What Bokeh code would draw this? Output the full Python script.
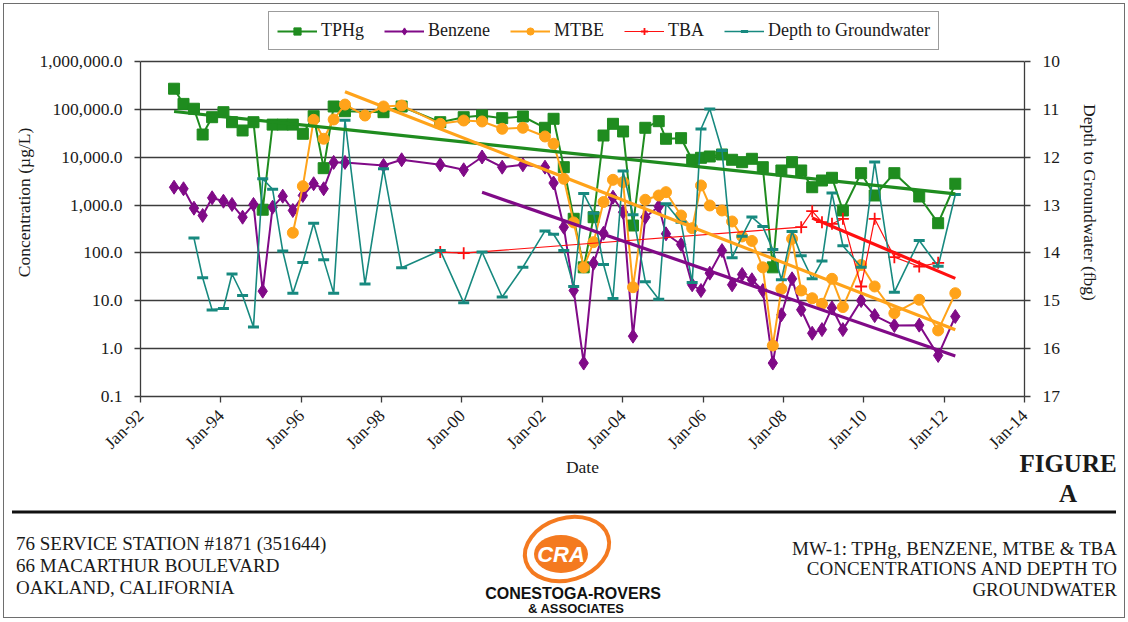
import math
import numpy as np
import pandas as pd
from bokeh.plotting import figure
from bokeh.models import (Range1d, LinearAxis, LinearScale, FixedTicker, NumeralTickFormatter,
                          DatetimeTickFormatter, Legend, LegendItem, Div)
from bokeh.layouts import column
from bokeh.embed import file_html
from bokeh.resources import INLINE

# ---------------- data ----------------
tphg_dates = ["1992-11-01", "1993-01-26", "1993-05-01", "1993-07-19", "1993-10-13", "1994-01-24",
              "1994-04-12", "1994-07-17", "1994-10-24", "1995-01-16", "1995-04-16", "1995-07-17",
              "1995-10-17", "1996-01-16", "1996-04-23", "1996-07-23", "1996-10-22", "1997-02-02",
              "1998-01-18", "1998-07-02", "1999-06-18", "2000-01-17", "2000-07-02", "2001-01-01",
              "2001-07-08", "2002-01-25", "2002-04-13", "2002-07-15", "2002-10-13", "2003-01-12",
              "2003-04-12", "2003-07-11", "2003-10-05", "2004-01-05", "2004-04-04", "2004-07-25",
              "2004-11-24", "2005-01-29", "2005-06-15", "2005-09-24", "2005-12-13", "2006-03-03",
              "2006-06-22", "2006-09-22", "2006-12-22", "2007-03-21", "2007-06-28", "2007-09-27",
              "2007-12-14", "2008-03-20", "2008-06-11", "2008-09-19", "2008-12-17", "2009-03-18",
              "2009-06-25", "2009-12-08", "2010-04-10", "2010-10-06", "2011-05-20", "2011-11-08",
              "2012-04-12"]
tphg_values = [270000, 130000, 103000, 29800, 68600, 87300,
               53900, 36200, 53900, 800, 48000, 48000,
               48000, 30900, 71900, 5900, 114800, 91500,
               87300, 114800, 53900, 68600, 74400, 65400,
               70900, 41200, 63500, 6190, 517, 50,
               558, 28400, 49900, 34500, 374, 41200,
               56600, 24300, 25000, 8840, 9720, 10350,
               11400, 8840, 7870, 9270, 6190, 50,
               5280, 7870, 5280, 2360, 3260, 3720,
               771, 4640, 1585, 4640, 1510, 418,
               2790]

benzene_dates = ["1992-11-01", "1993-01-26", "1993-05-01", "1993-07-19", "1993-10-13", "1994-01-24",
                 "1994-04-12", "1994-07-17", "1994-10-24", "1995-01-16", "1995-04-16", "1995-07-17",
                 "1995-10-17", "1996-01-16", "1996-04-23", "1996-07-23", "1996-10-22", "1997-02-02",
                 "1998-01-18", "1998-07-02", "1999-06-18", "2000-01-17", "2000-07-02", "2001-01-01",
                 "2001-07-08", "2002-01-25", "2002-04-13", "2002-07-15", "2002-10-13", "2003-01-12",
                 "2003-04-12", "2003-07-11", "2003-10-05", "2004-01-05", "2004-04-04", "2004-07-25",
                 "2004-11-24", "2005-01-29", "2005-06-15", "2005-09-24", "2005-12-13", "2006-03-03",
                 "2006-06-22", "2006-09-22", "2006-12-22", "2007-03-21", "2007-06-28", "2007-09-27",
                 "2007-12-14", "2008-03-20", "2008-06-11", "2008-09-19", "2008-12-17", "2009-03-18",
                 "2009-06-25", "2009-12-08", "2010-04-10", "2010-10-06", "2011-05-20", "2011-11-08",
                 "2012-04-12"]
benzene_values = [2360, 2190, 861, 606, 1420, 1205,
                  1030, 558, 1030, 15.9, 903, 1534,
                  771, 1585, 2790, 2190, 7800, 7800,
                  6720, 8840, 6950, 5460, 10100, 6190,
                  6950, 6190, 2890, 345, 16.4, 0.5,
                  61, 258, 1460, 710, 1.82, 558,
                  934, 251, 150, 21.6, 16.4, 37.8,
                  112, 21.6, 35.5, 27.5, 16.4, 0.5,
                  5.1, 28.8, 6.5, 2.1, 2.5, 7.1,
                  2.5, 10.1, 4.9, 3.05, 3.1, 0.72,
                  4.7]

mtbe_dates = ["1995-10-17", "1996-01-16", "1996-04-23", "1996-07-23", "1996-10-22", "1997-02-02",
              "1997-08-03", "1998-01-18", "1998-07-02", "1999-06-18", "2000-01-17", "2000-07-02",
              "2001-01-01", "2001-07-08", "2002-01-25", "2002-04-13", "2002-07-15", "2002-10-13",
              "2003-01-12", "2003-04-12", "2003-07-11", "2003-10-05", "2004-01-05", "2004-04-04",
              "2004-07-25", "2004-11-24", "2005-01-29", "2005-06-15", "2005-09-24", "2005-12-13",
              "2006-03-03", "2006-06-22", "2006-09-22", "2006-12-22", "2007-03-21", "2007-06-28",
              "2007-09-27", "2007-12-14", "2008-03-20", "2008-06-11", "2008-09-19", "2008-12-17",
              "2009-03-18", "2009-06-25", "2009-12-08", "2010-04-10", "2010-10-06", "2011-05-20",
              "2011-11-08", "2012-04-12"]
mtbe_values = [264, 2480, 60500, 24300, 61400, 126000,
               74400, 114800, 120400, 49900, 58500, 55800,
               39300, 41200, 27100, 19100, 3540, 433,
               50, 168, 1160, 3370, 3010, 19.2,
               1290, 1585, 1860, 606, 329, 2570,
               980, 771, 454, 221, 178, 50,
               1.16, 17.8, 197, 16.4, 11.3, 8.65,
               28.8, 7.4, 56, 19.9, 5.5, 10.5,
               2.4, 14.4]

tba_dates = ["1999-06-18", "2000-01-17", "2008-06-11", "2008-09-19", "2008-12-17", "2009-03-18",
             "2009-06-25", "2009-12-08", "2010-04-10", "2010-10-06", "2011-05-20", "2011-11-08"]
tba_values = [104, 99, 345, 745, 439, 406, 517, 19.9, 517, 81.5, 52, 62]

depth_dates = ["1993-05-01", "1993-07-19", "1993-10-13", "1994-01-24", "1994-04-12", "1994-07-17",
               "1994-10-24", "1995-01-16", "1995-04-16", "1995-07-17", "1995-10-17", "1996-01-16",
               "1996-04-23", "1996-07-23", "1996-10-22", "1997-02-02", "1997-08-03", "1998-01-18",
               "1998-07-02", "1999-06-18", "2000-01-17", "2000-07-02", "2001-01-01", "2001-07-08",
               "2002-01-25", "2002-04-13", "2002-07-15", "2002-10-13", "2003-01-12", "2003-04-12",
               "2003-07-11", "2003-10-05", "2004-01-05", "2004-04-04", "2004-07-25", "2004-11-24",
               "2005-01-29", "2005-06-15", "2005-09-24", "2005-12-13", "2006-03-03", "2006-06-22",
               "2006-09-22", "2006-12-22", "2007-03-21", "2007-06-28", "2007-09-27", "2007-12-14",
               "2008-03-20", "2008-06-11", "2008-09-19", "2008-12-17", "2009-03-18", "2009-06-25",
               "2009-12-08", "2010-04-10", "2010-10-06", "2011-05-20", "2011-11-08", "2012-04-12"]
depth_values = [13.69, 14.52, 15.19, 15.16, 14.44, 14.89,
                15.55, 12.45, 12.67, 13.96, 14.84, 14.20,
                13.38, 14.14, 14.84, 11.23, 14.65, 12.24,
                14.31, 13.95, 15.04, 13.98, 14.92, 14.30,
                13.54, 13.61, 13.95, 14.70, 12.76, 13.17,
                14.24, 14.95, 12.29, 13.20, 14.60, 14.97,
                12.97, 13.36, 14.62, 11.41, 10.99, 11.86,
                14.10, 13.65, 13.25, 13.45, 13.93, 14.56,
                13.55, 14.06, 14.54, 14.17, 12.75, 13.85,
                14.30, 12.10, 14.82, 13.74, 14.28, 12.78]

# start of each exponential trend fit; all trends run to the last sampling date
trend_starts = {"TPHg": "1992-11-01", "Benzene": "2000-07-02", "MTBE": "1997-02-02", "TBA": "2008-09-19"}
last_date = "2012-04-12"

conc_ticks = [0.1, 1, 10, 100, 1000, 10000, 100000, 1000000]
depth_ticks = [10, 11, 12, 13, 14, 15, 16, 17]
year_ticks = list(range(1992, 2015, 2))

footer_left = ["76 SERVICE STATION #1871 (351644)", "66 MACARTHUR BOULEVARD", "OAKLAND, CALIFORNIA"]
footer_right = ["MW-1: TPHg,  BENZENE, MTBE &amp; TBA", "CONCENTRATIONS AND DEPTH TO", "GROUNDWATER"]

# ---------------- style ----------------
SERIF = "Liberation Serif"
SANS = "Liberation Sans"
GREEN = "#1f8c1f"
PURPLE = "#800a87"
ORANGE = "#ffa31a"
RED = "#ff1010"
TEAL = "#17897f"
GRID = "#3c3c3c"
LOGO = "#f47a20"


def trend(dates, vals, start):
    d = pd.to_datetime(pd.Series(dates))
    v = np.asarray(vals, dtype=float)
    m = (d >= pd.Timestamp(start)).values
    d0 = d[m].iloc[0]
    t = (d[m] - d0).dt.days.values.astype(float)
    k, b = np.polyfit(t, np.log10(v[m]), 1)
    end = pd.Timestamp(last_date)
    tx = np.array([0.0, float((end - d0).days)])
    return [d0, end], list(10 ** (k * tx + b))


# page geometry: plot area x 140..1024, y 61..396; frame extended up to y=8 for the legend strip
F_TOP, P_TOP, P_BOT = 8, 61, 396
DEC = (P_BOT - P_TOP) / 7.0          # pixels per decade / per foot
EXTRA = (P_TOP - F_TOP) / DEC         # extra decades (feet) above the top gridline
P_H = 492

p = figure(width=1128, height=P_H, x_axis_type="datetime", y_axis_type="log",
           x_range=Range1d(pd.Timestamp("1992-01-01"), pd.Timestamp("2014-01-01")),
           y_range=Range1d(0.1, 10 ** (6 + EXTRA)),
           output_backend="svg", toolbar_location=None,
           min_border_left=140, min_border_right=104, min_border_top=F_TOP,
           min_border_bottom=P_H - P_BOT)
p.background_fill_color = "white"
p.border_fill_color = None
p.outline_line_color = None

p.extra_y_ranges = {"depth": Range1d(17, 10 - EXTRA)}
p.extra_y_scales = {"depth": LinearScale()}

yt = FixedTicker(ticks=conc_ticks)
p.yaxis.ticker = yt
p.ygrid.ticker = yt
p.yaxis.formatter = NumeralTickFormatter(format="0,0.0")
p.yaxis.bounds = (0.1, 1e6)
p.ygrid.grid_line_color = GRID
p.ygrid.grid_line_width = 1.3
p.xgrid.visible = False

xt = FixedTicker(ticks=[pd.Timestamp(f"{y}-01-01").value / 1e6 for y in year_ticks])
p.xaxis.ticker = xt
fmt = "%b-%y"
p.xaxis.formatter = DatetimeTickFormatter(years=fmt, months=fmt, days=fmt, hours=fmt,
                                          minutes=fmt, seconds=fmt, milliseconds=fmt,
                                          microseconds=fmt)
p.xaxis.major_label_orientation = math.pi / 4

raxis = LinearAxis(y_range_name="depth", ticker=FixedTicker(ticks=depth_ticks),
                   axis_label="Depth to Groundwater (fbg)", bounds=(10, 17))
p.add_layout(raxis, "right")

p.yaxis[0].axis_label = "Concentration (µg/L)"
p.xaxis.axis_label = "Date"

for ax in [p.xaxis[0], p.yaxis[0], raxis]:
    ax.axis_line_color = GRID
    ax.axis_line_width = 1.3
    ax.major_tick_line_color = GRID
    ax.major_tick_line_width = 1.3
    ax.major_tick_out = 6
    ax.major_tick_in = 0
    ax.minor_tick_line_color = None
    ax.major_label_text_font = SERIF
    ax.major_label_text_font_size = "17.5px"
    ax.major_label_text_color = "#1a1a1a"
    ax.axis_label_text_font = SERIF
    ax.axis_label_text_font_size = "17.5px"
    ax.axis_label_text_font_style = "normal"
    ax.axis_label_text_color = "#1a1a1a"
p.yaxis[0].major_label_standoff = 12
p.yaxis[0].axis_label_standoff = 2
raxis.major_label_standoff = 12
raxis.axis_label_standoff = 17
p.xaxis[0].major_label_standoff = 10
p.xaxis[0].axis_label_standoff = -6

tx = pd.to_datetime(tphg_dates)
bx = pd.to_datetime(benzene_dates)
mx = pd.to_datetime(mtbe_dates)
ax_ = pd.to_datetime(tba_dates)
dx = pd.to_datetime(depth_dates)

r_t_l = p.line(tx, tphg_values, color=GREEN, line_width=2)
r_t_m = p.scatter(tx, tphg_values, marker="square", size=11, color=GREEN)
r_b_l = p.line(bx, benzene_values, color=PURPLE, line_width=2)
r_b_m = p.scatter(bx, benzene_values, marker="diamond", size=14, color=PURPLE)
r_m_l = p.line(mx, mtbe_values, color=ORANGE, line_width=2)
r_m_m = p.scatter(mx, mtbe_values, marker="circle", size=11, color=ORANGE)
r_a_l = p.line(ax_, tba_values, color=RED, line_width=1.2)
r_a_m = p.scatter(ax_, tba_values, marker="cross", size=12, color=RED, line_width=1.8)
r_d_l = p.line(dx, depth_values, color=TEAL, line_width=1.6, y_range_name="depth")
r_d_m = p.scatter(dx, depth_values, marker="dash", size=11, color=TEAL, line_width=3,
                  y_range_name="depth")

for dates, vals, key, col in [(tphg_dates, tphg_values, "TPHg", GREEN),
                              (benzene_dates, benzene_values, "Benzene", PURPLE),
                              (mtbe_dates, mtbe_values, "MTBE", ORANGE),
                              (tba_dates, tba_values, "TBA", RED)]:
    xs, ys = trend(dates, vals, trend_starts[key])
    p.line(xs, ys, color=col, line_width=3.2)

legend = Legend(items=[
    LegendItem(label="TPHg", renderers=[r_t_l, r_t_m]),
    LegendItem(label="Benzene", renderers=[r_b_l, r_b_m]),
    LegendItem(label="MTBE", renderers=[r_m_l, r_m_m]),
    LegendItem(label="TBA", renderers=[r_a_l, r_a_m]),
    LegendItem(label="Depth to Groundwater", renderers=[r_d_l, r_d_m]),
], orientation="horizontal", location=(268 - 140, P_BOT - 50))
legend.label_text_font = SERIF
legend.label_text_font_size = "18px"
legend.label_text_color = "#1a1a1a"
legend.glyph_width = 40
legend.glyph_height = 18
legend.label_standoff = 4
legend.spacing = 20
legend.padding = 8
legend.margin = 0
legend.border_line_color = "#3a3a3a"
legend.border_line_width = 1.5
legend.background_fill_alpha = 1
p.add_layout(legend, "center")

# ---------------- footer (inline SVG text block below the chart) ----------------
Y0 = 448
OVER = P_H - Y0
F_H = 621 - Y0


def t(x, y, s, size, anchor="start", weight="normal", family=SERIF, color="#1a1a1a", style="normal"):
    css = (f"font-family:'{family}';font-size:{size}px;font-weight:{weight};"
           f"font-style:{style};fill:{color}")
    return (f'<text x="{x}" y="{y}" text-anchor="{anchor}" dominant-baseline="central" '
            f'style="{css}">{s}</text>')


parts = [f'<svg xmlns="http://www.w3.org/2000/svg" width="1128" height="{F_H}" '
         f'style="display:block"><g transform="translate(0,{-Y0})">']
parts.append(t(1068, 463, "FIGURE", 25, "middle", "bold"))
parts.append(t(1068, 493, "A", 25, "middle", "bold"))
parts.append('<line x1="12" y1="512" x2="1116" y2="512" stroke="#111" stroke-width="3"/>')
for i, s in enumerate(footer_left):
    parts.append(t(16, 543 + 22 * i, s, 19))
for s, yy in zip(footer_right, [548, 568, 589]):
    parts.append(t(1117, yy, s, 19, "end"))
parts.append(f'<ellipse cx="567" cy="549" rx="43" ry="31" transform="rotate(-17 567 549)" '
             f'fill="none" stroke="{LOGO}" stroke-width="4"/>')
parts.append(f'<ellipse cx="561" cy="554" rx="27" ry="19" fill="{LOGO}"/>')
parts.append(t(561, 554, "CRA", 22, "middle", "bold", SANS, "white", "italic"))
parts.append(t(573, 593, "CONESTOGA-ROVERS", 16, "middle", "bold", SANS, "#111"))
parts.append(t(576, 608, "&amp; ASSOCIATES", 13, "middle", "bold", SANS, "#111"))
parts.append('</g></svg>')

footer = Div(text="".join(parts), width=1128, height=F_H, margin=(-OVER, 0, 0, 0),
             styles={"position": "relative", "z-index": "5"})

layout = column(p, footer, spacing=0,
                styles={"outline": "1.5px solid #6e6e6e", "outline-offset": "-4px"})
open("out.html", "w").write(file_html(layout, INLINE))
